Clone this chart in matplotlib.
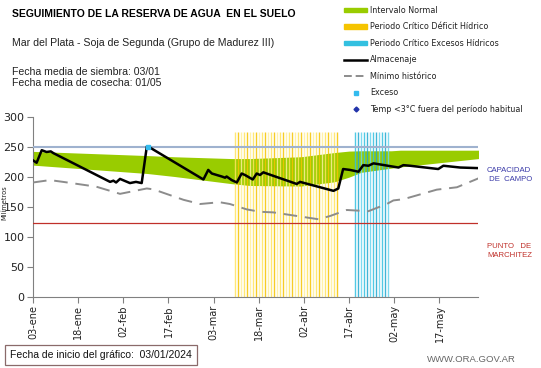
import numpy as np
import matplotlib
matplotlib.use("Agg")
import matplotlib.pyplot as plt
from matplotlib.lines import Line2D
from matplotlib.patches import Patch

# days counted from 03-ene-2024
almac_dias = [0, 1.2, 2.9, 4.5, 5.9, 6.8, 25.6, 26.7, 27.6, 28.9, 32.2, 34.2, 36.1, 37.8, 38.3,
              56.6, 58.2, 59.4, 62.7, 63.8, 64.3, 66, 67.7, 69.3, 70.4, 73.0, 74.3, 75.4, 76.5,
              77.6, 87.6, 88.7, 99.8, 101.4, 103, 105.3, 108.1, 109.7, 111.4, 113.1, 121.4,
              123, 125.2, 134.6, 136.3, 141.9, 148]
almac_mm = [228, 224, 245, 242, 243, 240, 192, 194, 191, 197, 190, 192, 190, 251, 251,
            196, 212, 206, 201, 199, 201, 195, 191, 206, 203.5, 196, 206, 203.5, 208,
            206, 188.5, 192, 177, 181, 213.5, 212, 209, 220, 219, 223, 216,
            220, 219, 213.5, 219, 216, 215]

minimo_dias = [0, 5.6, 10, 21, 28.9, 37.8, 40, 50, 55.5, 62, 65.4, 71, 75.4, 79.8, 87.6,
               94.8, 98.7, 104.2, 111.4, 117.5, 119.7, 123, 134.1, 140.8, 148]
minimo_mm = [191, 195, 192, 184, 172, 181, 179.5, 162, 155, 158, 155, 146, 142, 141, 135,
             129.5, 135, 145, 143, 155, 161, 163, 179, 183, 198]

normal_dias = [0, 38, 47, 66, 72, 89, 100, 105, 109, 119, 122, 148]
normal_sup = [243, 236, 234, 231, 231, 234, 241, 243.5, 244, 244, 245, 245]
normal_inf = [220, 206, 201, 189, 186, 185, 192, 200, 208, 215, 217, 231]

deficit_dias = list(range(67, 102))
exceso_hidrico_dias = list(range(107, 119))
exceso_pto = ([38.3], [251])

capacidad_campo = 250
punto_marchitez = 123

tick_dias = [0, 15, 30, 45, 60, 75, 90, 105, 120, 135]
tick_labels = ['03-ene', '18-ene', '02-feb', '17-feb', '03-mar', '18-mar', '02-abr',
               '17-abr', '02-may', '17-may']

fig = plt.figure(figsize=(5.41, 3.68), dpi=100)
ax = fig.add_axes([33 / 541, 1 - 296.7 / 368, 445 / 541, 179.4 / 368])

ax.fill_between(normal_dias, normal_inf, normal_sup, color='#99cc00', lw=0, zorder=1)

amarillos = ['#ffe55c', '#f5c400', '#fff09a']
for i, d in enumerate(deficit_dias):
    ax.vlines(d, 0, 275, color=amarillos[i % 3], lw=1.0, alpha=0.85, zorder=2)
celestes = ['#33c0e0', '#1fa8d0', '#66d4ee']
for i, d in enumerate(exceso_hidrico_dias):
    ax.vlines(d, 0, 275, color=celestes[i % 3], lw=1.0, alpha=0.85, zorder=2)

ax.axhline(capacidad_campo, color='#9fb2cf', lw=1.5, zorder=3)
ax.axhline(punto_marchitez, color='#c0302a', lw=0.9, zorder=3)
ax.plot(minimo_dias, minimo_mm, color='#8c8c8c', lw=1.4, dashes=(7, 4), zorder=4)
ax.plot(almac_dias, almac_mm, color='black', lw=1.8, zorder=5)
ax.plot(*exceso_pto, 's', color='#33bbee', ms=3, zorder=6)

ax.set_xlim(0, 147.8)
ax.set_ylim(0, 300)
ax.set_yticks(range(0, 301, 50))
ax.set_xticks(tick_dias)
ax.set_xticklabels(tick_labels, rotation=90)
ax.tick_params(axis='x', labelsize=7, colors='#808080', labelcolor='#222222',
               length=4, width=0.8, pad=2)
ax.tick_params(axis='y', labelsize=8, colors='#808080', labelcolor='#222222',
               length=4, width=0.8, pad=2)
for s in ['top', 'right']:
    ax.spines[s].set_visible(False)
for s in ['left', 'bottom']:
    ax.spines[s].set_color('#808080')
fig.text(4.5 / 541, 1 - 203 / 368, 'Milímetros', fontsize=4.8, rotation=90,
         ha='center', va='center', color='#222222')

fig.text(12 / 541, 1 - 14 / 368, 'SEGUIMIENTO DE LA RESERVA DE AGUA  EN EL SUELO',
         fontsize=7.5, fontweight='bold', va='center', family='Liberation Sans')
fig.text(12 / 541, 1 - 43 / 368, 'Mar del Plata - Soja de Segunda (Grupo de Madurez III)',
         fontsize=7.6, va='center', color='#222222', family='Liberation Sans')
fig.text(12 / 541, 1 - 72 / 368, 'Fecha media de siembra: 03/01', fontsize=7.6,
         va='center', color='#222222', family='Liberation Sans')
fig.text(12 / 541, 1 - 83.5 / 368, 'Fecha media de cosecha: 01/05', fontsize=7.6,
         va='center', color='#222222', family='Liberation Sans')

fig.text(487 / 541, 1 - 175 / 368, 'CAPACIDAD\n DE  CAMPO', fontsize=5.6, color='#3a3aa8',
         va='center', linespacing=1.3, family='Liberation Sans')
fig.text(487 / 541, 1 - 251 / 368, 'PUNTO   DE\nMARCHITEZ', fontsize=5.6, color='#c0302a',
         va='center', linespacing=1.3, family='Liberation Sans')

handles = [
    Patch(color='#99cc00'),
    Patch(color='#f5c400'),
    Patch(color='#33c0e0'),
    Line2D([], [], color='black', lw=1.8),
    Line2D([], [], color='#8c8c8c', lw=1.4, dashes=(4, 2)),
    Line2D([], [], ls='none', marker='s', color='#33bbee', ms=2.5),
    Line2D([], [], ls='none', marker='D', color='#2233aa', ms=2.5),
]
labels = ['Intervalo Normal', 'Periodo Crítico Déficit Hídrico',
          'Periodo Crítico Excesos Hídricos', 'Almacenaje', 'Mínimo histórico',
          'Exceso', 'Temp <3°C fuera del período habitual']
leg = fig.legend(handles, labels, loc='upper left', bbox_to_anchor=(344 / 541, 1 - 6 / 368),
                 frameon=False, fontsize=5.8, handlelength=2.9, handleheight=0.5,
                 labelspacing=0.93, handletextpad=0.3, borderaxespad=0, borderpad=0)
for t in leg.get_texts():
    t.set_color('#222222')

fig.text(10 / 541, 1 - 355 / 368, 'Fecha de inicio del gráfico:  03/01/2024', fontsize=7.5,
         va='center', color='#111111', family='Liberation Sans',
         bbox=dict(boxstyle='square,pad=0.5', fc='white', ec='#8a6a6a', lw=0.9))
fig.text(516 / 541, 1 - 359 / 368, 'WWW.ORA.GOV.AR', fontsize=6.8, ha='right', va='center',
         color='#666666', family='Liberation Sans')

fig.savefig('out.png', dpi=100)
